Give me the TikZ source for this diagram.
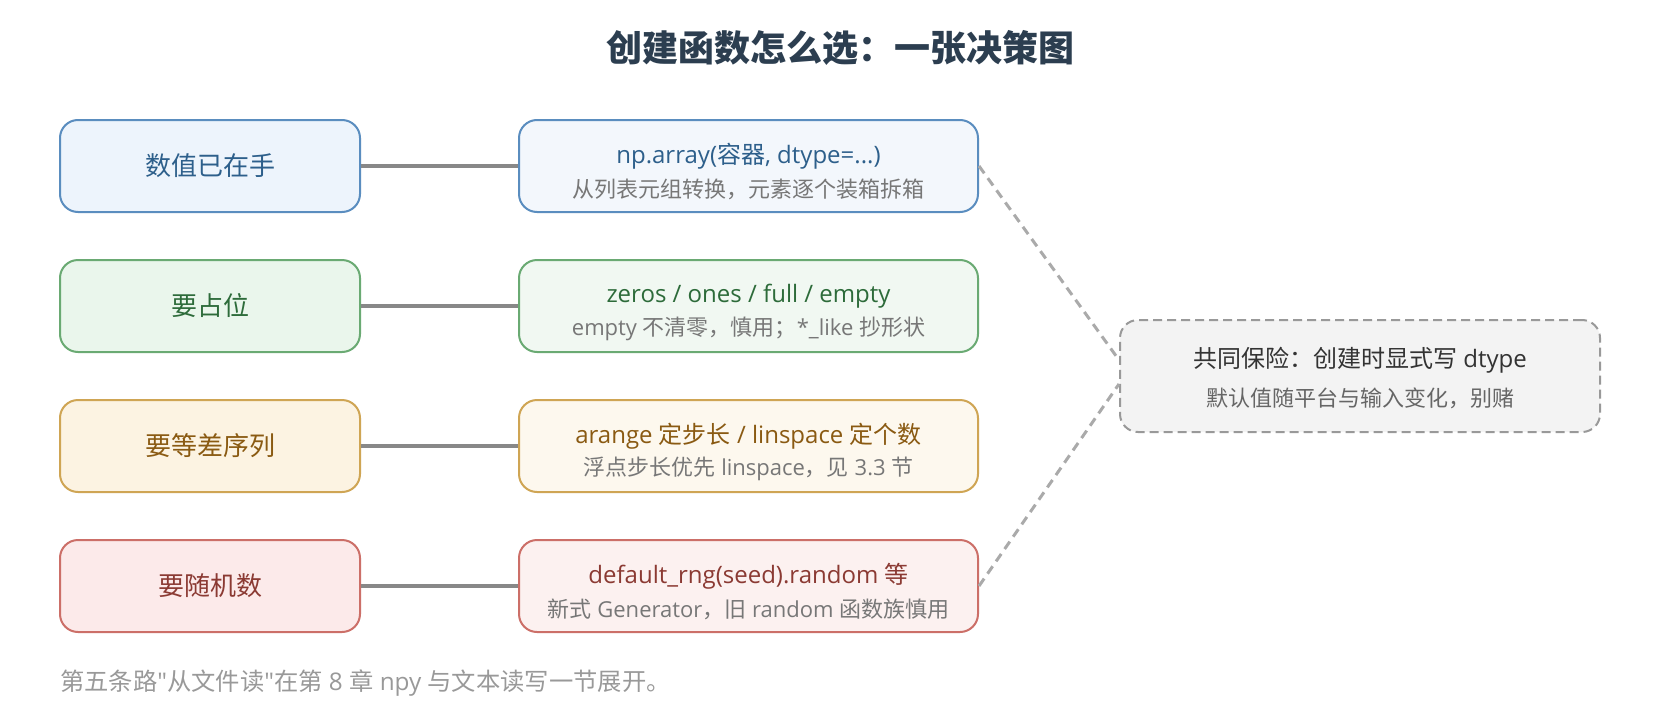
\documentclass[tikz,border=0pt]{standalone}
\usepackage{fontspec}
\setmainfont{Noto Sans CJK SC}
\newfontfamily\lat{Open Sans}[Ligatures=TeXOff]
\usetikzlibrary{calc}
\definecolor{titlec}{HTML}{2C3E50}
\definecolor{bluefL}{HTML}{EDF4FC}
\definecolor{bluefM}{HTML}{F3F7FC}
\definecolor{blueb}{HTML}{5A8DBF}
\definecolor{bluet}{HTML}{2D5F8B}
\definecolor{greenfL}{HTML}{EAF6EC}
\definecolor{greenfM}{HTML}{F1F8F2}
\definecolor{greenb}{HTML}{6AAA73}
\definecolor{greent}{HTML}{2D6B3A}
\definecolor{yellowfL}{HTML}{FCF3E2}
\definecolor{yellowfM}{HTML}{FDF8EE}
\definecolor{yellowb}{HTML}{CFA554}
\definecolor{yellowt}{HTML}{8A5A12}
\definecolor{redfL}{HTML}{FCEAEA}
\definecolor{redfM}{HTML}{FCF1F0}
\definecolor{redb}{HTML}{CC6F68}
\definecolor{redt}{HTML}{8B3A33}
\definecolor{subt}{HTML}{777777}
\definecolor{linkc}{HTML}{888888}
\definecolor{dashc}{HTML}{AAAAAA}
\definecolor{notef}{HTML}{F3F3F3}
\definecolor{noteb}{HTML}{999999}
\definecolor{notet}{HTML}{333333}
\definecolor{notesub}{HTML}{666666}
\definecolor{footc}{HTML}{999999}
\begin{document}
\begin{tikzpicture}[x=1pt,y=-1pt,
  box/.style={draw, line width=2pt, rounded corners=18pt, inner sep=0pt, minimum height=92pt},
  leftbox/.style={box, minimum width=300pt, font=\fontsize{26}{30}\selectfont},
  midbox/.style={box, minimum width=459pt},
  maintxt/.style={inner sep=0pt, font=\fontsize{24}{28}\selectfont},
  subtxt/.style={inner sep=0pt, text=subt, font=\fontsize{22}{26}\selectfont},
  link/.style={draw=linkc, line width=4pt},
  dlink/.style={draw=dashc, line width=3pt, dash pattern=on 9pt off 6pt},
  notebox/.style={draw=noteb, fill=notef, line width=2pt, dash pattern=on 9pt off 5pt, rounded corners=18pt, minimum width=480pt, minimum height=112pt, inner sep=0pt}
]
\useasboundingbox[fill=white] (0,0) rectangle (1680,720);

\node[inner sep=0pt, text=titlec, font=\fontsize{36}{40}\selectfont\bfseries] (title) at (840,48) {创建函数怎么选：一张决策图};

% left boxes
\node[leftbox, fill=bluefL, draw=blueb, text=bluet] (l1) at (210,166) {数值已在手};
\node[leftbox, fill=greenfL, draw=greenb, text=greent] (l2) at (210,306) {要占位};
\node[leftbox, fill=yellowfL, draw=yellowb, text=yellowt] (l3) at (210,446) {要等差序列};
\node[leftbox, fill=redfL, draw=redb, text=redt] (l4) at (210,586) {要随机数};

% middle boxes
\node[midbox, fill=bluefM, draw=blueb] (m1) at (748.5,166) {};
\node[midbox, fill=greenfM, draw=greenb] (m2) at (748.5,306) {};
\node[midbox, fill=yellowfM, draw=yellowb] (m3) at (748.5,446) {};
\node[midbox, fill=redfM, draw=redb] (m4) at (748.5,586) {};

\node[maintxt, text=bluet] (m1a) at (748.5,156) {{\lat np.array(}容器{\lat , dtype=...)}};
\node[subtxt] (m1b) at (748.5,189) {从列表元组转换，元素逐个装箱拆箱};
\node[maintxt, text=greent] (m2a) at (748.5,296) {{\lat zeros / ones / full / empty}};
\node[subtxt] (m2b) at (748.5,329) {{\lat empty }不清零，慎用；{\lat *\_like }抄形状};
\node[maintxt, text=yellowt] (m3a) at (748.5,436) {{\lat arange }定步长{\lat{} / linspace }定个数};
\node[subtxt] (m3b) at (748.5,469) {浮点步长优先{\lat{} linspace}，见{\lat{} 3.3 }节};
\node[maintxt, text=redt] (m4a) at (748.5,576) {{\lat default\_rng(seed).random }等};
\node[subtxt] (m4b) at (748.5,609) {新式{\lat{} Generator}，旧{\lat{} random }函数族慎用};

% note box
\node[notebox] (r) at (1360,376) {};
\node[maintxt, text=notet] (ra) at (1360,360) {共同保险：创建时显式写{\lat{} dtype}};
\node[subtxt, text=notesub] (rb) at (1360,398) {默认值随平台与输入变化，别赌};

% connectors
\draw[link] (l1) -- (m1);
\draw[link] (l2) -- (m2);
\draw[link] (l3) -- (m3);
\draw[link] (l4) -- (m4);
\draw[dlink] (m1.east) -- ($(r.west)+(0,-16)$);
\draw[dlink] (m4.east) -- ($(r.west)+(0,8)$);

% footer
\node[inner sep=0pt, anchor=west, text=footc, font=\fontsize{24.3}{28}\selectfont] (foot) at (60,683) {第五条路{\lat "}从文件读{\lat "}在第{\lat{} 8 }章{\lat{} npy }与文本读写一节展开。};
\end{tikzpicture}
\end{document}
